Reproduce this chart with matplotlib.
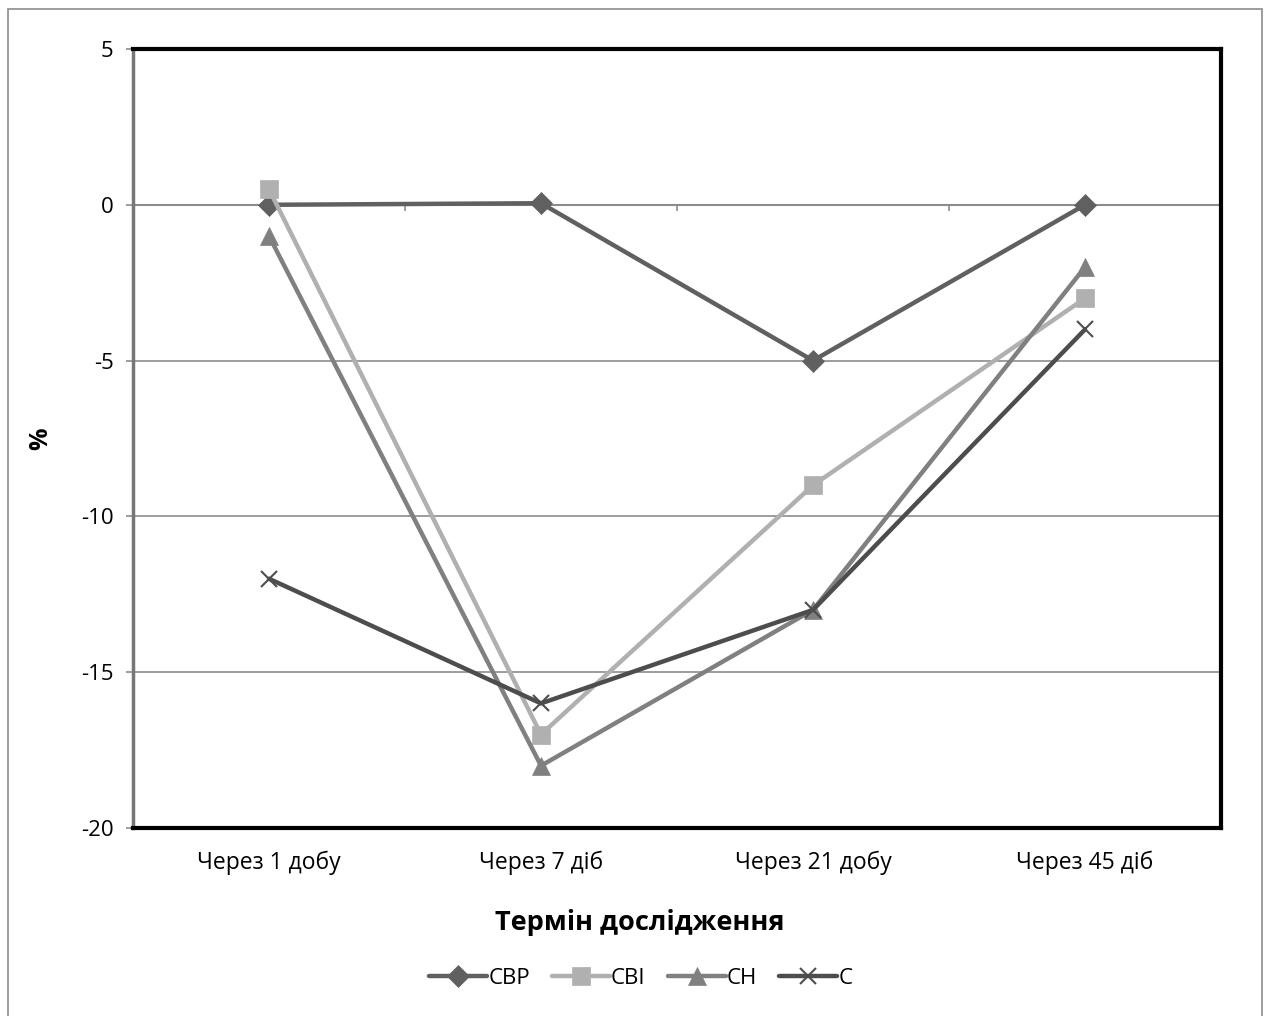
import matplotlib.pyplot as plt
import matplotlib.patches as patches
import numpy as np

plt.rcParams['font.family'] = ['Open Sans', 'DejaVu Sans']
plt.rcParams['axes.unicode_minus'] = False

categories = ['Через 1 добу', 'Через 7 діб', 'Через 21 добу', 'Через 45 діб']
svr = [0, 0.05, -5, 0]
svi = [0.5, -17, -9, -3]
sn = [-1, -18, -13, -2]
s = [-12, -16, -13, -4]

series = [
    ('СВР', svr, '#606060', 'D', 11),
    ('СВІ', svi, '#b0b0b0', 's', 13),
    ('СН', sn, '#808080', '^', 13),
    ('С', s, '#4d4d4d', 'x', 12),
]

fig = plt.figure(figsize=(12.64, 10.16), dpi=100)
ax = fig.add_axes([0.1052, 0.185, 0.8608, 0.7668])

fig.patches.append(patches.Rectangle(
    (0.0065, -0.01), 0.992, 1.001, transform=fig.transFigure,
    fill=False, edgecolor='#8c8c8c', linewidth=1.2
))

x = np.arange(len(categories))
for name, vals, col, mk, ms in series:
    ax.plot(x, vals, color=col, linewidth=3.2, marker=mk, markersize=ms,
            markeredgewidth=1.5 if mk == 'x' else 0.5, markeredgecolor=col,
            label=name, solid_capstyle='round')

ax.set_xlim(-0.5, 3.5)
ax.set_ylim(-20, 5)
ax.set_yticks(np.arange(-20, 6, 5))
ax.set_xticks(x)
ax.set_xticklabels(categories)

for yv in [-15, -10, -5, 5]:
    ax.axhline(yv, color='#8c8c8c', linewidth=1.2, zorder=0)
# horizontal axis crosses at 0 with ticks between categories
ax.axhline(0, color='#8c8c8c', linewidth=1.5, zorder=0)
ax.vlines(np.arange(0.5, 3.6, 1), -0.2, 0, color='#8c8c8c', linewidth=1.2, zorder=0)

for side in ['top', 'right', 'bottom']:
    ax.spines[side].set_linewidth(3)
    ax.spines[side].set_color('black')
ax.spines['left'].set_linewidth(2.5)
ax.spines['left'].set_color('#777777')

ax.tick_params(axis='y', length=5, width=1.2, color='#8c8c8c', labelsize=16, pad=9)
ax.tick_params(axis='x', length=0, labelsize=16.5, pad=16)

ax.set_ylabel('%', fontsize=18, fontweight='bold')
ax.yaxis.set_label_coords(-0.073, 0.5)
ax.set_xlabel('Термін дослідження', fontsize=19.5, fontweight='bold')
ax.xaxis.set_label_coords(0.466, -0.104)

ax.legend(loc='center', bbox_to_anchor=(0.507, 0.037), bbox_transform=fig.transFigure,
          ncol=4, frameon=False, fontsize=16, handlelength=2.6, handletextpad=0.05,
          columnspacing=1.0)

fig.savefig('out.png', dpi=100)
